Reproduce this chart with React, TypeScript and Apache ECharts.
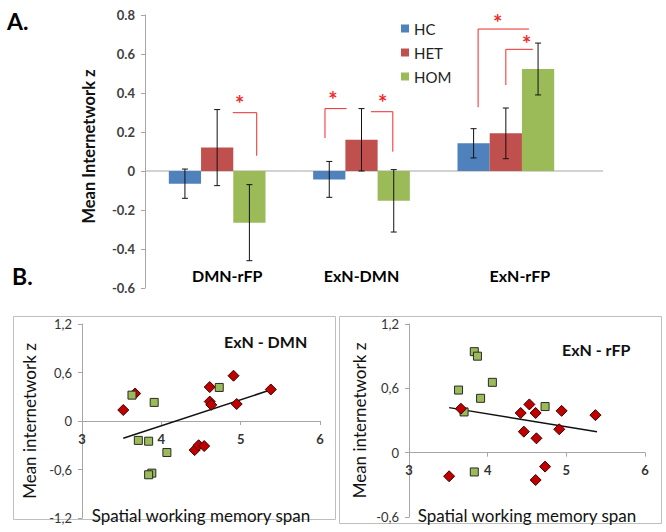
import React, { useEffect, useRef } from "react";
import * as echarts from "echarts";

// ---- Panel A data ----
const categories = ["DMN-rFP", "ExN-DMN", "ExN-rFP"];
const groups = ["HC", "HET", "HOM"];
const hcMean = [-0.065, -0.043, 0.142];
const hetMean = [0.12, 0.16, 0.193];
const homMean = [-0.265, -0.153, 0.523];
const hcErr = [0.075, 0.092, 0.075];
const hetErr = [0.195, 0.16, 0.13];
const homErr = [0.195, 0.16, 0.133];
const barTicks = { min: -0.6, max: 0.8, interval: 0.2 };

// significance brackets: category index, polyline points [offset in band widths, value], star position
const bracketCats = [0, 1, 1, 2, 2];
const bracketPoints = [
  [[0.108, 0.299], [0.274, 0.299], [0.274, 0.078]],
  [[-0.253, 0.169], [-0.253, 0.32], [-0.103, 0.32]],
  [[0.066, 0.304], [0.217, 0.304], [0.217, 0.099]],
  [[-0.192, 0.327], [-0.192, 0.728], [0.16, 0.728]],
  [[0.0, 0.441], [0.0, 0.624], [0.1875, 0.624]],
];
const bracketStars = [
  [0.156, 0.37],
  [-0.198, 0.39],
  [0.147, 0.376],
  [-0.056, 0.785],
  [0.144, 0.677],
];

// ---- Panel B data ----
const dmnHet = [
  [3.52, 0.136], [3.67, 0.34], [4.61, 0.42], [4.91, 0.56], [5.38, 0.39], [4.61, 0.24],
  [4.63, 0.2], [4.95, 0.21], [4.42, -0.36], [4.47, -0.3], [4.54, -0.31],
];
const dmnHom = [
  [3.63, 0.32], [3.91, 0.23], [4.73, 0.415], [3.71, -0.24], [3.84, -0.25], [4.07, -0.39],
  [3.88, -0.645], [3.84, -0.665],
];
const dmnFit = [[3.52, -0.214], [5.41, 0.395]];
const rfpHet = [
  [3.51, -0.22], [3.66, 0.41], [4.53, 0.45], [4.42, 0.37], [4.61, 0.37], [4.46, 0.196],
  [4.62, 0.134], [4.94, 0.39], [4.91, 0.218], [5.37, 0.35], [4.73, -0.13], [4.61, -0.255],
];
const rfpHom = [
  [3.83, 0.942], [3.87, 0.9], [4.06, 0.656], [3.63, 0.584], [3.91, 0.507], [3.7, 0.38],
  [4.73, 0.43], [3.83, -0.18],
];
const rfpFit = [[3.51, 0.42], [5.39, 0.196]];
const dmnYRange = [-1.2, 1.2];
const rfpYRange = [-0.6, 1.2];

const FONT = "Lato, 'Noto Sans', sans-serif";
const BAR_CAT_GAP = 0.33;
const COLORS = ["#4f81bd", "#c0504d", "#9bbb59"];
const AXIS_GRAY = "#a6a6a6";
const RED = "#f02a2a";

const commaFmt = (v: number) => (Math.abs(v) < 1e-9 ? "0" : v.toFixed(1).replace(".", ","));

export default function App() {
  const ref = useRef<HTMLDivElement>(null);
  useEffect(() => {
    document.body.style.margin = "0";
    if (!ref.current) return;
    const chart = echarts.init(ref.current, null, { renderer: "svg" });

    const means = [hcMean, hetMean, homMean];
    const errs = [hcErr, hetErr, homErr];
    const errData: number[][] = [];
    for (let g = 0; g < 3; g++) {
      for (let c = 0; c < categories.length; c++) {
        errData.push([c, g, means[g][c] - errs[g][c], means[g][c] + errs[g][c]]);
      }
    }

    const grids = [
      { left: 145, top: 15, width: 433, height: 273 },
      { left: 82, top: 324, width: 238, height: 194 },
      { left: 409, top: 324, width: 236, height: 193 },
    ];

    const scatterAxisLine = { lineStyle: { color: AXIS_GRAY, width: 1 } };
    const scatterX = (gridIndex: number, yRange: number[], nameGap: number) => {
      // place the x axis at y = 0 of its grid
      const h = grids[gridIndex].height;
      const zeroFromBottom = (h * (0 - yRange[0])) / (yRange[1] - yRange[0]);
      return {
        type: "value",
        gridIndex,
        min: 3,
        max: 6,
        interval: 1,
        offset: -zeroFromBottom,
        splitLine: { show: false },
        axisLine: { onZero: false, ...scatterAxisLine },
        axisTick: { show: true, length: 4, lineStyle: { color: AXIS_GRAY } },
        axisLabel: { margin: 11, fontSize: 13, fontWeight: "bold", color: "#333", fontFamily: FONT },
        name: "Spatial working memory span",
        nameLocation: "middle",
        nameGap,
        nameTextStyle: { fontSize: 17, color: "#111", fontFamily: FONT },
      };
    };
    const scatterY = (gridIndex: number, yRange: number[], nameGap: number) => ({
      type: "value",
      gridIndex,
      min: yRange[0],
      max: yRange[1],
      interval: 0.6,
      splitLine: { show: false },
      axisLine: { show: true, onZero: false, ...scatterAxisLine },
      axisTick: { show: true, length: 4, lineStyle: { color: AXIS_GRAY } },
      axisLabel: { margin: 10, fontSize: 13, color: "#333", fontFamily: FONT, formatter: commaFmt },
      name: "Mean internetwork z",
      nameLocation: "middle",
      nameGap,
      nameTextStyle: { fontSize: 17, color: "#111", fontFamily: FONT },
    });

    const catLabelShift = [20, 0, 28];

    const option: any = {
      animation: false,
      textStyle: { fontFamily: FONT },
      title: [
        { text: "A.", left: 2, top: 4, textStyle: { fontSize: 23, fontWeight: "bold", color: "#000", fontFamily: FONT } },
        { text: "B.", left: 7, top: 259, textStyle: { fontSize: 23, fontWeight: "bold", color: "#000", fontFamily: FONT } },
        { text: "ExN - DMN", left: 219, top: 328, textStyle: { fontSize: 16, fontWeight: "bold", color: "#111", fontFamily: FONT } },
        { text: "ExN - rFP", left: 557, top: 336, textStyle: { fontSize: 16, fontWeight: "bold", color: "#111", fontFamily: FONT } },
      ],
      legend: {
        data: groups,
        orient: "vertical",
        left: 396,
        top: 16,
        icon: "rect",
        itemWidth: 8,
        itemHeight: 8,
        itemGap: 9,
        textStyle: { fontSize: 15, color: "#222", fontFamily: FONT },
      },
      graphic: [
        { type: "rect", shape: { x: 13.5, y: 316.5, width: 322, height: 203 }, style: { fill: "none", stroke: "#bfbfbf", lineWidth: 1 } },
        { type: "rect", shape: { x: 339.5, y: 316.5, width: 322, height: 207 }, style: { fill: "none", stroke: "#bfbfbf", lineWidth: 1 } },
      ],
      grid: grids.map((g) => ({ ...g, outerBoundsMode: "none", containLabel: false })),
      xAxis: [
        {
          type: "category",
          gridIndex: 0,
          data: categories,
          axisLine: { show: false },
          axisTick: { show: false },
          axisLabel: {
            inside: true,
            margin: 5,
            formatter: (v: string, i: number) => `{s${i}|${v}}`,
            rich: Object.fromEntries(
              catLabelShift.map((p, i) => [
                `s${i}`,
                { padding: [0, 0, 0, p], fontSize: 16, fontWeight: "bold", color: "#000", fontFamily: FONT },
              ])
            ),
          },
        },
        scatterX(1, dmnYRange, 86),
        scatterX(2, rfpYRange, 54),
      ],
      yAxis: [
        {
          type: "value",
          gridIndex: 0,
          min: barTicks.min,
          max: barTicks.max,
          interval: barTicks.interval,
          splitLine: { show: false },
          axisLine: { show: true, lineStyle: { color: AXIS_GRAY } },
          axisTick: { show: true, length: 4, lineStyle: { color: AXIS_GRAY } },
          axisLabel: {
            margin: 10,
            fontSize: 13,
            fontWeight: "bold",
            color: "#404040",
            fontFamily: FONT,
            formatter: (v: number) => (Math.abs(v) < 1e-9 ? "0" : v.toFixed(1)),
          },
          name: "Mean Internetwork z",
          nameLocation: "middle",
          nameGap: 48,
          nameTextStyle: { fontSize: 16.5, fontWeight: "bold", color: "#111", fontFamily: FONT, padding: [0, 0, 0, 10] },
        },
        scatterY(1, dmnYRange, 44),
        scatterY(2, rfpYRange, 41),
      ],
      series: [
        // zero line of panel A
        {
          type: "custom",
          xAxisIndex: 0,
          yAxisIndex: 0,
          data: [[0, 0]],
          silent: true,
          z: 1,
          renderItem: (params: any, api: any) => {
            const band = api.size([1, 0])[0];
            const p0 = api.coord([0, 0]);
            const p2 = api.coord([categories.length - 1, 0]);
            return {
              type: "line",
              shape: { x1: p0[0] - band / 2, y1: p0[1], x2: p2[0] + band * 0.674, y2: p2[1] },
              style: { stroke: AXIS_GRAY, lineWidth: 1 },
            };
          },
        },
        ...groups.map((g, i) => ({
          name: g,
          type: "bar",
          xAxisIndex: 0,
          yAxisIndex: 0,
          data: means[i],
          barGap: "0%",
          barCategoryGap: `${BAR_CAT_GAP * 100}%`,
          itemStyle: { color: COLORS[i] },
          z: 2,
        })),
        // error bars
        {
          type: "custom",
          xAxisIndex: 0,
          yAxisIndex: 0,
          data: errData,
          silent: true,
          z: 5,
          renderItem: (params: any, api: any) => {
            const cat = api.value(0);
            const g = api.value(1);
            const band = api.size([1, 0])[0];
            const bw = (band * (1 - BAR_CAT_GAP)) / 3;
            const lo = api.coord([cat, api.value(2)]);
            const hi = api.coord([cat, api.value(3)]);
            const x = lo[0] + (g - 1) * bw;
            const cap = 3;
            const st = { stroke: "#111", lineWidth: 1 };
            return {
              type: "group",
              children: [
                { type: "line", shape: { x1: x, y1: lo[1], x2: x, y2: hi[1] }, style: st },
                { type: "line", shape: { x1: x - cap, y1: lo[1], x2: x + cap, y2: lo[1] }, style: st },
                { type: "line", shape: { x1: x - cap, y1: hi[1], x2: x + cap, y2: hi[1] }, style: st },
              ],
            };
          },
        },
        // significance brackets
        {
          type: "custom",
          xAxisIndex: 0,
          yAxisIndex: 0,
          data: bracketCats.map((c, i) => [c, i]),
          silent: true,
          z: 6,
          renderItem: (params: any, api: any) => {
            const cat = api.value(0);
            const idx = api.value(1);
            const band = api.size([1, 0])[0];
            const pts = bracketPoints[idx].map(([dx, y]) => {
              const p = api.coord([cat, y]);
              return [p[0] + dx * band, p[1]];
            });
            const s = bracketStars[idx];
            const sp = api.coord([cat, s[1]]);
            return {
              type: "group",
              children: [
                { type: "polyline", shape: { points: pts }, style: { stroke: RED, lineWidth: 1, fill: "none" } },
                {
                  type: "text",
                  x: sp[0] + s[0] * band,
                  y: sp[1] + 5,
                  style: {
                    text: "*",
                    fill: RED,
                    fontSize: 22,
                    fontWeight: "bold",
                    fontFamily: FONT,
                    align: "center",
                    verticalAlign: "middle",
                  },
                },
              ],
            };
          },
        },
        // panel B left
        {
          name: "ExN-DMN fit",
          type: "line",
          xAxisIndex: 1,
          yAxisIndex: 1,
          data: dmnFit,
          symbol: "none",
          lineStyle: { color: "#111", width: 1.5 },
          z: 3,
        },
        {
          name: "ExN-DMN HET",
          type: "scatter",
          xAxisIndex: 1,
          yAxisIndex: 1,
          data: dmnHet,
          symbol: "diamond",
          symbolSize: 11,
          itemStyle: { color: "#c00000", borderColor: "#3a0000", borderWidth: 1, opacity: 1 },
          z: 4,
        },
        {
          name: "ExN-DMN HOM",
          type: "scatter",
          xAxisIndex: 1,
          yAxisIndex: 1,
          data: dmnHom,
          symbol: "rect",
          symbolSize: 8,
          itemStyle: { color: "#9bbb59", borderColor: "#2a2a2a", borderWidth: 1, opacity: 1 },
          z: 5,
        },
        // panel B right
        {
          name: "ExN-rFP fit",
          type: "line",
          xAxisIndex: 2,
          yAxisIndex: 2,
          data: rfpFit,
          symbol: "none",
          lineStyle: { color: "#111", width: 1.5 },
          z: 3,
        },
        {
          name: "ExN-rFP HOM",
          type: "scatter",
          xAxisIndex: 2,
          yAxisIndex: 2,
          data: rfpHom,
          symbol: "rect",
          symbolSize: 8,
          itemStyle: { color: "#9bbb59", borderColor: "#2a2a2a", borderWidth: 1, opacity: 1 },
          z: 4,
        },
        {
          name: "ExN-rFP HET",
          type: "scatter",
          xAxisIndex: 2,
          yAxisIndex: 2,
          data: rfpHet,
          symbol: "diamond",
          symbolSize: 11,
          itemStyle: { color: "#c00000", borderColor: "#3a0000", borderWidth: 1, opacity: 1 },
          z: 5,
        },
      ],
    };

    chart.setOption(option);
    return () => chart.dispose();
  }, []);

  return <div ref={ref} style={{ width: 666, height: 532, background: "#fff" }} />;
}
